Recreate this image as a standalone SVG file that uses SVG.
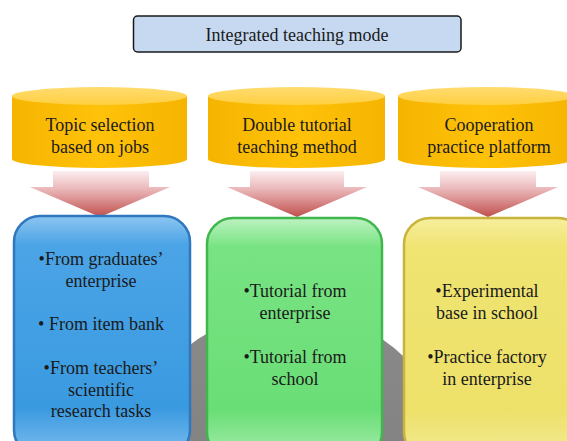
<svg xmlns="http://www.w3.org/2000/svg" width="567" height="441" viewBox="0 0 567 441">
<defs>
<linearGradient id="cylBody" x1="0" y1="0" x2="1" y2="0">
<stop offset="0" stop-color="#f5b400"/>
<stop offset="0.5" stop-color="#ffc20a"/>
<stop offset="1" stop-color="#f5b400"/>
</linearGradient>
<linearGradient id="cylTop" x1="0" y1="0" x2="0" y2="1">
<stop offset="0" stop-color="#ffdc70"/>
<stop offset="1" stop-color="#ffcf40"/>
</linearGradient>
<linearGradient id="arrowGrad" x1="0" y1="0" x2="0" y2="1">
<stop offset="0" stop-color="#fbeef0"/>
<stop offset="0.4" stop-color="#eab6b8"/>
<stop offset="1" stop-color="#c0504d"/>
</linearGradient>
<linearGradient id="blueGrad" x1="0" y1="0" x2="0" y2="1">
<stop offset="0" stop-color="#8cc5f0"/>
<stop offset="0.12" stop-color="#4ba4e6"/>
<stop offset="0.8" stop-color="#3a9ae0"/>
<stop offset="1" stop-color="#7dbdee"/>
</linearGradient>
<linearGradient id="greenGrad" x1="0" y1="0" x2="0" y2="1">
<stop offset="0" stop-color="#bdf2c1"/>
<stop offset="0.12" stop-color="#78e383"/>
<stop offset="0.8" stop-color="#6ade76"/>
<stop offset="1" stop-color="#a5ecab"/>
</linearGradient>
<linearGradient id="yellowGrad" x1="0" y1="0" x2="0" y2="1">
<stop offset="0" stop-color="#f6ee9e"/>
<stop offset="0.12" stop-color="#f0e472"/>
<stop offset="0.8" stop-color="#ede16a"/>
<stop offset="1" stop-color="#f3ea94"/>
</linearGradient>
<linearGradient id="grayGrad" x1="0" y1="0" x2="0" y2="1">
<stop offset="0" stop-color="#8a8a8a"/>
<stop offset="1" stop-color="#7a7a7a"/>
</linearGradient>
</defs>
<style>
.t { font-family: "Liberation Serif", "Times New Roman", serif; fill: #1a1a1a; text-anchor: middle; font-size: 18px; }
.cylTop { fill: url(#cylTop); }
.cylBody { fill: url(#cylBody); }
.arrow { fill: url(#arrowGrad); }
</style>

<g id="background">
<circle cx="290" cy="476" r="165" fill="url(#grayGrad)"/>
</g>

<g id="title">
<rect x="133.5" y="16" width="327.5" height="36" rx="4" fill="#c6d9f1" stroke="#1a1a1a" stroke-width="1.5"/>
<text class="t" x="297" y="41">Integrated teaching mode</text>
</g>

<g id="cyl1">
<path class="cylBody" d="M12,96 L12,159 A87.5,9 0 0 0 187,159 L187,96 Z"/>
<ellipse class="cylTop" cx="99.5" cy="96" rx="87.5" ry="9"/>
<text class="t" x="100" y="131">Topic selection</text>
<text class="t" x="100" y="153">based on jobs</text>
</g>

<g id="cyl2">
<path class="cylBody" d="M208,96 L208,159 A88.5,9 0 0 0 385,159 L385,96 Z"/>
<ellipse class="cylTop" cx="296.5" cy="96" rx="88.5" ry="9"/>
<text class="t" x="297" y="131">Double tutorial</text>
<text class="t" x="297" y="153">teaching method</text>
</g>

<g id="cyl3">
<path class="cylBody" d="M398,96 L398,159 A88,9 0 0 0 574,159 L574,96 Z"/>
<ellipse class="cylTop" cx="486" cy="96" rx="88" ry="9"/>
<text class="t" x="489" y="131">Cooperation</text>
<text class="t" x="489" y="153">practice platform</text>
</g>

<g id="connectors">
<path class="arrow" d="M53,171 L149,171 L149,187 L170,187 L100,217 L30,187 L53,187 Z"/>
<path class="arrow" d="M250,171 L344,171 L344,187 L367,187 L297,217 L227,187 L250,187 Z"/>
<path class="arrow" d="M440,171 L536,171 L536,187 L558,187 L488,217 L418,187 L440,187 Z"/>
</g>

<g id="box1">
<rect x="14" y="216" width="176" height="240" rx="26" fill="url(#blueGrad)" stroke="#2f78bf" stroke-width="2.5"/>
<text class="t" x="101" y="265">•From graduates’</text>
<text class="t" x="101" y="287">enterprise</text>
<text class="t" x="101" y="330">• From item bank</text>
<text class="t" x="101" y="374">•From teachers’</text>
<text class="t" x="101" y="396">scientific</text>
<text class="t" x="101" y="417">research tasks</text>
</g>

<g id="box2">
<rect x="207" y="218" width="175" height="240" rx="26" fill="url(#greenGrad)" stroke="#40b64e" stroke-width="2.5"/>
<text class="t" x="295" y="297">•Tutorial from</text>
<text class="t" x="295" y="319">enterprise</text>
<text class="t" x="295" y="363">•Tutorial from</text>
<text class="t" x="295" y="385">school</text>
</g>

<g id="box3">
<rect x="404" y="218" width="180" height="240" rx="26" fill="url(#yellowGrad)" stroke="#c8b43c" stroke-width="2.5"/>
<text class="t" x="487" y="297">•Experimental</text>
<text class="t" x="487" y="319">base in school</text>
<text class="t" x="487" y="363">•Practice factory</text>
<text class="t" x="487" y="385">in enterprise</text>
</g>
</svg>
